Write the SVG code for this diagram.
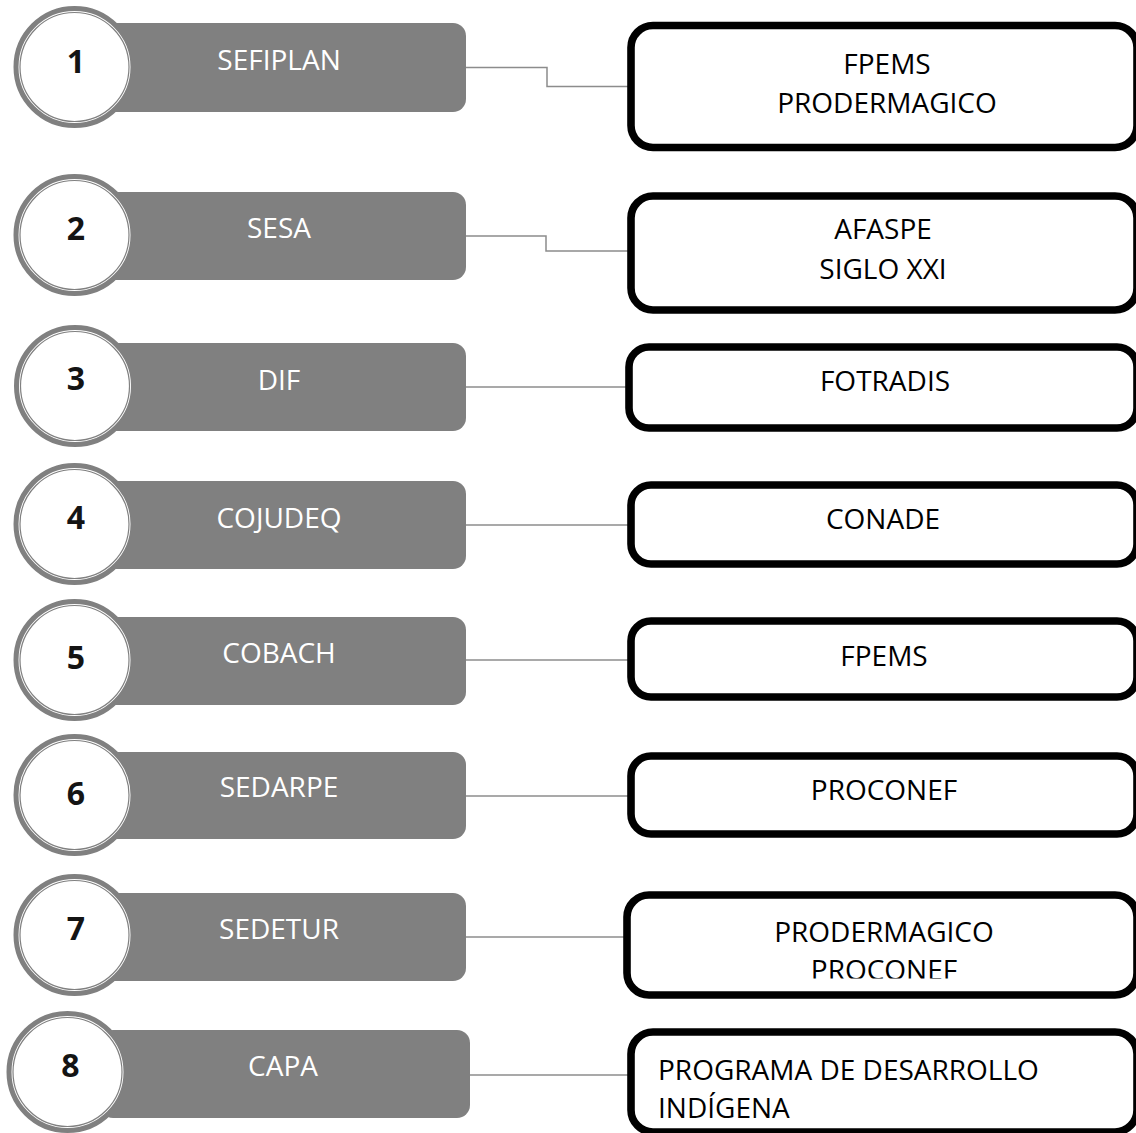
<svg xmlns="http://www.w3.org/2000/svg" width="1136" height="1133" viewBox="0 0 1136 1133">
<style>
.bar{fill:#808080;}
.ring{fill:#ffffff;stroke:#808080;stroke-width:5;}
.inner{fill:#ffffff;stroke:#808080;stroke-width:1.2;}
.num{font-family:"Open Sans","Liberation Sans",sans-serif;font-weight:bold;font-size:32px;fill:#141414;text-anchor:middle;}
.lbl{font-family:"Open Sans","Liberation Sans",sans-serif;font-size:28px;fill:#ffffff;text-anchor:middle;}
.box{fill:#ffffff;stroke:#000000;stroke-width:7.6;}
.btxt{font-family:"Open Sans","Liberation Sans",sans-serif;font-size:28px;fill:#000000;text-anchor:middle;}
.btxtl{font-family:"Open Sans","Liberation Sans",sans-serif;font-size:28px;fill:#000000;}
.con{fill:none;stroke:#8c8c8c;stroke-width:1.5;}
</style>
<defs>
<clipPath id="clip7"><rect x="636" y="899" width="500" height="79.5"/></clipPath>
</defs>
<rect width="1136" height="1133" fill="#ffffff"/>
<g id="connectors">
<polyline class="con" points="466,67.5 547,67.5 547,86.5 631,86.5"/>
<polyline class="con" points="466,236 546,236 546,251 631,251"/>
<line class="con" x1="466" y1="387" x2="631" y2="387"/>
<line class="con" x1="466" y1="525" x2="631" y2="525"/>
<line class="con" x1="466" y1="660" x2="631" y2="660"/>
<line class="con" x1="466" y1="796" x2="631" y2="796"/>
<line class="con" x1="466" y1="937" x2="631" y2="937"/>
<line class="con" x1="470" y1="1075" x2="631" y2="1075"/>
</g>
<g id="node-1">
<rect class="bar" x="100" y="23" width="366" height="89" rx="13"/>
<circle class="ring" cx="74.5" cy="67" r="58.5"/>
<circle class="inner" cx="74.5" cy="67" r="54.5"/>
<text class="num" x="76" y="73">1</text>
<text class="lbl" x="279" y="70">SEFIPLAN</text>
</g>
<g id="node-2">
<rect class="bar" x="100" y="192" width="366" height="88" rx="13"/>
<circle class="ring" cx="74.5" cy="235" r="58.5"/>
<circle class="inner" cx="74.5" cy="235" r="54.5"/>
<text class="num" x="76" y="240">2</text>
<text class="lbl" x="279" y="238">SESA</text>
</g>
<g id="node-3">
<rect class="bar" x="100" y="343" width="366" height="88" rx="13"/>
<circle class="ring" cx="75" cy="386" r="58.5"/>
<circle class="inner" cx="75" cy="386" r="54.5"/>
<text class="num" x="76" y="390">3</text>
<text class="lbl" x="279" y="390">DIF</text>
</g>
<g id="node-4">
<rect class="bar" x="100" y="481" width="366" height="88" rx="13"/>
<circle class="ring" cx="74.5" cy="524" r="58.5"/>
<circle class="inner" cx="74.5" cy="524" r="54.5"/>
<text class="num" x="76" y="529">4</text>
<text class="lbl" x="279" y="528">COJUDEQ</text>
</g>
<g id="node-5">
<rect class="bar" x="100" y="617" width="366" height="88" rx="13"/>
<circle class="ring" cx="74.5" cy="660" r="58.5"/>
<circle class="inner" cx="74.5" cy="660" r="54.5"/>
<text class="num" x="76" y="669">5</text>
<text class="lbl" x="279" y="663">COBACH</text>
</g>
<g id="node-6">
<rect class="bar" x="100" y="752" width="366" height="87" rx="13"/>
<circle class="ring" cx="74.5" cy="795" r="58.5"/>
<circle class="inner" cx="74.5" cy="795" r="54.5"/>
<text class="num" x="76" y="805">6</text>
<text class="lbl" x="279" y="797">SEDARPE</text>
</g>
<g id="node-7">
<rect class="bar" x="100" y="893" width="366" height="88" rx="13"/>
<circle class="ring" cx="74.5" cy="935" r="58.5"/>
<circle class="inner" cx="74.5" cy="935" r="54.5"/>
<text class="num" x="76" y="940">7</text>
<text class="lbl" x="279" y="939">SEDETUR</text>
</g>
<g id="node-8">
<rect class="bar" x="100" y="1030" width="370" height="88" rx="13"/>
<circle class="ring" cx="67.5" cy="1072" r="58.5"/>
<circle class="inner" cx="67.5" cy="1072" r="54.5"/>
<text class="num" x="70.5" y="1077">8</text>
<text class="lbl" x="283" y="1076">CAPA</text>
</g>
<g id="box-1">
<rect class="box" x="631" y="25.5" width="506" height="122" rx="22"/>
<text class="btxt" x="887" y="74">FPEMS</text>
<text class="btxt" x="887" y="113">PRODERMAGICO</text>
</g>
<g id="box-2">
<rect class="box" x="631" y="196" width="506" height="114" rx="22"/>
<text class="btxt" x="883" y="239">AFASPE</text>
<text class="btxt" x="883" y="279">SIGLO XXI</text>
</g>
<g id="box-3">
<rect class="box" x="629" y="347" width="508" height="81" rx="20"/>
<text class="btxt" x="885" y="391">FOTRADIS</text>
</g>
<g id="box-4">
<rect class="box" x="631" y="485" width="506" height="79" rx="20"/>
<text class="btxt" x="883" y="529">CONADE</text>
</g>
<g id="box-5">
<rect class="box" x="631" y="621" width="506" height="76" rx="20"/>
<text class="btxt" x="884" y="666">FPEMS</text>
</g>
<g id="box-6">
<rect class="box" x="631" y="756" width="506" height="78" rx="20"/>
<text class="btxt" x="884" y="800">PROCONEF</text>
</g>
<g id="box-7">
<rect class="box" x="627" y="895" width="510" height="100" rx="22"/>
<g clip-path="url(#clip7)">
<text class="btxt" x="884" y="942">PRODERMAGICO</text>
<text class="btxt" x="884" y="980">PROCONEF</text>
</g>
</g>
<g id="box-8">
<rect class="box" x="631" y="1032" width="506" height="100" rx="22"/>
<text class="btxtl" x="658" y="1080">PROGRAMA DE DESARROLLO</text>
<text class="btxtl" x="658" y="1118">INDÍGENA</text>
</g>
</svg>
